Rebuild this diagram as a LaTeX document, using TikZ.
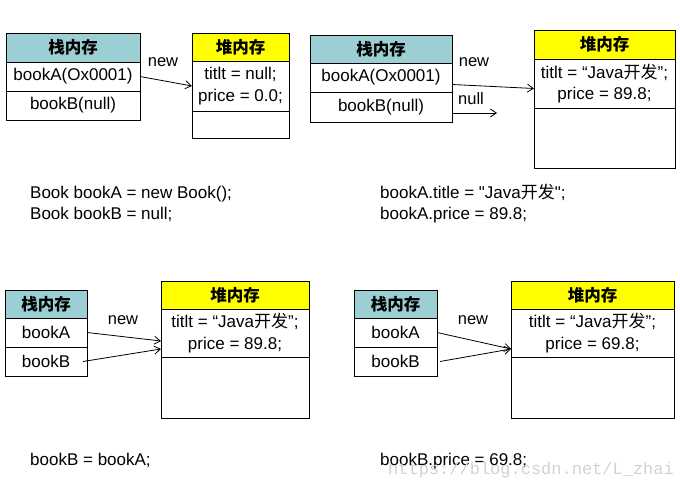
\documentclass[tikz,border=0pt]{standalone}
\usepackage{fontspec}
\setmainfont{Liberation Sans}
\newfontfamily\rawsans{Liberation Sans}
\newfontfamily\cjk{Noto Sans CJK SC}
\newfontfamily\wmfont{Liberation Mono}
\usetikzlibrary{arrows.meta}
\definecolor{stackteal}{RGB}{155,207,212}
\definecolor{heapyellow}{RGB}{255,255,0}
\definecolor{wmgray}{RGB}{210,210,210}
\tikzset{
  cell/.style={draw, line width=0.9pt, inner sep=0pt, outer sep=0pt, anchor=north west, align=center,
    font=\fontsize{17}{21.5}\selectfont},
  stackhead/.style={cell, fill=stackteal, font=\fontsize{16.5}{20}\selectfont\cjk\bfseries},
  heaphead/.style={cell, fill=heapyellow, font=\fontsize{16.5}{20}\selectfont\cjk\bfseries},
  ptr/.style={line width=0.8pt, -{Straight Barb[length=6pt,width=8pt]}},
  lbl/.style={font=\fontsize{16.5}{20}\selectfont, inner sep=0pt},
  code/.style={font=\fontsize{17}{20}\selectfont, inner sep=0pt, anchor=base west},
  wm/.style={font=\fontsize{17}{20}\selectfont\wmfont, text=wmgray, inner sep=0pt, anchor=base west}
}
\begin{document}
\begin{tikzpicture}[x=1pt,y=-1pt]
\useasboundingbox (0,0) rectangle (680,489);
% Panel 1
\node[stackhead, minimum width=134pt, minimum height=29pt] (s1h) at (6,33) {栈内存};
\node[cell, minimum width=134pt, minimum height=29pt] (s1a) at (6,62) {bookA(Ox0001)};
\node[cell, minimum width=134pt, minimum height=29pt] (s1b) at (6,91) {bookB(null)};
\node[heaphead, minimum width=97pt, minimum height=28pt] (h1h) at (192,33) {堆内存};
\node[cell, minimum width=97pt, minimum height=50pt] (h1b) at (192,61) {titlt = null;\\price = 0.0;};
\node[cell, minimum width=97pt, minimum height=27pt] (h1c) at (192,111) {};
\draw[ptr] (s1a.east) -- (h1b.west);
\node[lbl] (n1) at (163,62) {new};
\node[code] (c1a) at (30,199) {Book bookA = new Book();};
\node[code] (c1b) at (30,220) {Book bookB = null;};
% Panel 2
\node[stackhead, minimum width=142pt, minimum height=28pt] (s2h) at (310,35) {栈内存};
\node[cell, minimum width=142pt, minimum height=29pt] (s2a) at (310,63) {bookA(Ox0001)};
\node[cell, minimum width=142pt, minimum height=30pt] (s2b) at (310,92) {bookB(null)};
\node[heaphead, minimum width=141pt, minimum height=29pt] (h2h) at (534,30) {堆内存};
\node[cell, minimum width=141pt, minimum height=49pt] (h2b) at (534,59) {titlt = “Java{\cjk 开发}”;\\price = 89.8;};
\node[cell, minimum width=141pt, minimum height=60pt] (h2c) at (534,108) {};
\coordinate (null2) at (497,113);
\draw[ptr] ([yshift=-7pt]s2a.east) -- ([yshift=-5pt]h2b.west);
\draw[ptr] ([yshift=-6pt]s2b.east) -- (null2);
\node[lbl] (n2) at (474,62) {new};
\node[lbl] (n2b) at (471,99) {null};
\node[code] (c2a) at (380,199) {\rawsans bookA.title = "Java{\cjk 开发}";};
\node[code] (c2b) at (380,220) {bookA.price = 89.8;};
% Panel 3
\node[stackhead, minimum width=82pt, minimum height=28pt] (s3h) at (5,290) {栈内存};
\node[cell, minimum width=82pt, minimum height=29pt] (s3a) at (5,318) {bookA};
\node[cell, minimum width=82pt, minimum height=29pt] (s3b) at (5,347) {bookB};
\node[heaphead, minimum width=148pt, minimum height=28pt] (h3h) at (161,281) {堆内存};
\node[cell, minimum width=148pt, minimum height=48pt] (h3b) at (161,309) {titlt = “Java{\cjk 开发}”;\\price = 89.8;};
\node[cell, minimum width=148pt, minimum height=61pt] (h3c) at (161,357) {};
\draw[ptr] (s3a.east) -- ([yshift=-8pt]h3b.west);
\draw[ptr] ([xshift=-4pt]s3b.east) -- ([yshift=-16pt]h3b.west);
\node[lbl] (n3) at (123,320) {new};
\node[code] (c3) at (30,465) {bookB = bookA;};
% Panel 4
\node[stackhead, minimum width=83pt, minimum height=28pt] (s4h) at (354,290) {栈内存};
\node[cell, minimum width=83pt, minimum height=29pt] (s4a) at (354,318) {bookA};
\node[cell, minimum width=83pt, minimum height=29pt] (s4b) at (354,347) {bookB};
\node[heaphead, minimum width=163pt, minimum height=28pt] (h4h) at (511,281) {堆内存};
\node[cell, minimum width=163pt, minimum height=48pt] (h4b) at (511,309) {titlt = “Java{\cjk 开发}”;\\price = 69.8;};
\node[cell, minimum width=163pt, minimum height=61pt] (h4c) at (511,357) {};
\draw[ptr] (s4a.east) -- ([yshift=-16pt]h4b.west);
\draw[ptr] ([xshift=3pt]s4b.east) -- ([yshift=-16pt]h4b.west);
\node[lbl] (n4) at (473,320) {new};
\node[code] (c4) at (380,465) {bookB.price = 69.8;};
\node[wm] (wm) at (388,474) {https://blog.csdn.net/L\_zhai};
\end{tikzpicture}
\end{document}
